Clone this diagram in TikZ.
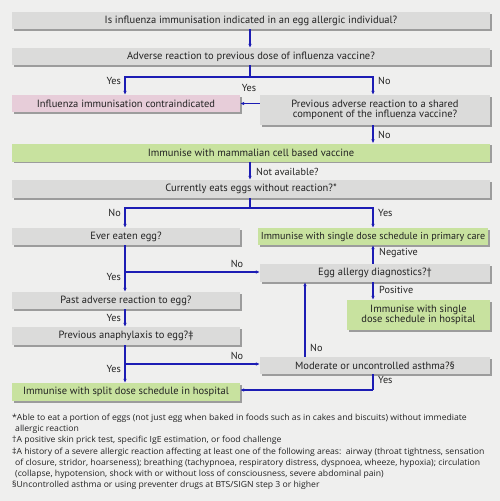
\documentclass[tikz,border=0pt]{standalone}
\usepackage{fontspec}
\setmainfont{PT Sans}
\newfontfamily\fnfont{Open Sans}
\usetikzlibrary{shadows,arrows.meta}
\definecolor{bg}{HTML}{EFEFEE}
\definecolor{boxgray}{HTML}{DBDBDA}
\definecolor{boxpink}{HTML}{E7CDD9}
\definecolor{boxgreen}{HTML}{C8E29F}
\definecolor{shad}{HTML}{9C9C9C}
\definecolor{arrblue}{HTML}{1C1CB4}
\definecolor{txt}{HTML}{222222}
\newcommand{\fnx}[1]{\scalebox{1.03}[1]{#1}}
\tikzset{
  box/.style={rectangle, fill=boxgray, inner sep=1pt, align=center, text=txt,
    font=\fontsize{10.5}{11}\selectfont,
    drop shadow={shadow xshift=1.6pt, shadow yshift=-1.6pt, fill=shad, opacity=1}},
  gbox/.style={box, fill=boxgreen},
  pbox/.style={box, fill=boxpink},
  arr/.style={draw=arrblue, line width=1.1pt, -{Latex[length=4pt,width=3.6pt]}},
  ln/.style={draw=arrblue, line width=1.1pt},
  lab/.style={font=\fontsize{10.2}{11}\selectfont, text=txt, inner sep=1pt},
  fn/.style={font=\fnfont\fontsize{8.4}{10}\selectfont, text=txt, anchor=west, inner sep=0pt}
}
\begin{document}
\begin{tikzpicture}[x=1pt,y=-1pt]
\fill[bg] (0,0) rectangle (500,501);
\useasboundingbox (0,0) rectangle (500,501);

\node[box, minimum width=478, minimum height=17] (q1) at (251,20.5) {Is influenza immunisation indicated in an egg allergic individual?};
\node[box, minimum width=478, minimum height=17] (q2) at (251,56.5) {Adverse reaction to previous dose of influenza vaccine?};
\node[pbox, minimum width=228, minimum height=17] (contra) at (126,103.5) {Influenza immunisation contraindicated};
\node[box, minimum width=230, minimum height=30] (q3) at (375,110) {Previous adverse reaction to a shared\\[-1.5pt]component of the influenza vaccine?};
\node[gbox, minimum width=478, minimum height=18] (mam) at (251,152.5) {Immunise with mammalian cell based vaccine};
\node[box, minimum width=478, minimum height=18] (q4) at (251,189) {Currently eats eggs without reaction?*};
\node[box, minimum width=228, minimum height=17] (ever) at (126,236.5) {Ever eaten egg?};
\node[gbox, minimum width=230, minimum height=17, font=\fontsize{10.1}{11}\selectfont] (primary) at (373,236.5) {Immunise with single dose schedule in primary care};
\node[box, minimum width=230, minimum height=18] (diag) at (375,273) {Egg allergy diagnostics?\textdagger};
\node[gbox, minimum width=143, minimum height=30] (hosp) at (418.5,315) {Immunise with single\\[-1.5pt]dose schedule in hospital};
\node[box, minimum width=228, minimum height=17] (past) at (126,300.5) {Past adverse reaction to egg?};
\node[box, minimum width=228, minimum height=18] (anaph) at (126,336) {Previous anaphylaxis to egg?\textdaggerdbl};
\node[gbox, minimum width=228, minimum height=18] (split) at (126,392) {Immunise with split dose schedule in hospital};
\node[box, minimum width=230, minimum height=17] (asthma) at (375,365.5) {Moderate or uncontrolled asthma?\S};

% connectors
\coordinate (b1) at (250,77);
\coordinate (b2) at (250,208);
\coordinate (b3) at (125,272);
\coordinate (b4) at (125,364);
\coordinate (b5) at (373,390);

\draw[arr] (q1.south -| 250,0) -- (q2.north -| 250,0);
\draw[ln] (q2.south -| b1) -- (b1);
\draw[arr] (b1) -| (contra.north -| 125,0);
\draw[arr] (b1) -| (q3.north -| 373,0);
\draw[arr] (q3.west |- contra.east) -- (contra.east);
\draw[arr] (q3.south -| 373,0) -- (mam.north -| 373,0);
\draw[arr] (mam.south -| 250,0) -- (q4.north -| 250,0);
\draw[ln] (q4.south -| b2) -- (b2);
\draw[arr] (b2) -| (ever.north -| 125,0);
\draw[arr] (b2) -| (primary.north -| 373,0);
\draw[arr] (ever.south -| b3) -- (past.north -| b3);
\draw[arr] (b3) -- (diag.west |- b3);
\draw[arr] (diag.north -| 373,0) -- (primary.south -| 373,0);
\draw[arr] (diag.south -| 373,0) -- (hosp.north -| 373,0);
\draw[arr] (past.south -| 125,0) -- (anaph.north -| 125,0);
\draw[arr] (anaph.south -| b4) -- (split.north -| b4);
\draw[arr] (b4) -- (asthma.west |- b4);
\draw[arr] (asthma.north -| 305,0) -- (diag.south -| 305,0);
\draw[ln] (asthma.south -| b5) -- (b5);
\draw[arr] (b5) -- (split.east |- b5);

% labels
\node[lab, anchor=east] (l1) at (122,81) {Yes};
\node[lab, anchor=west] (l2) at (377,81) {No};
\node[lab] (l3) at (249,88) {Yes};
\node[lab, anchor=west] (l4) at (377,135) {No};
\node[lab, anchor=west] (l5) at (255,172) {Not available?};
\node[lab, anchor=east] (l6) at (122,213) {No};
\node[lab, anchor=west] (l7) at (377,213) {Yes};
\node[lab] (l8) at (237,264) {No};
\node[lab, anchor=east] (l9) at (122,277) {Yes};
\node[lab, anchor=west] (l10) at (378,253) {Negative};
\node[lab, anchor=west] (l11) at (378,290) {Positive};
\node[lab, anchor=east] (l12) at (122,318) {Yes};
\node[lab] (l13) at (237,356) {No};
\node[lab, anchor=east] (l14) at (122,369) {Yes};
\node[lab, anchor=west] (l15) at (309,348) {No};
\node[lab, anchor=west] (l16) at (377,380) {Yes};

% footnotes
\node[fn] (f1) at (12,418) {\fnx{*Able to eat a portion of eggs (not just egg when baked in foods such as in cakes and biscuits) without immediate}};
\node[fn] (f1b) at (15,429) {\fnx{allergic reaction}};
\node[fn] (f2) at (12,440) {\fnx{\textdagger A positive skin prick test, specific IgE estimation, or food challenge}};
\node[fn] (f3) at (12,452) {\fnx{\textdaggerdbl A history of a severe allergic reaction affecting at least one of the following areas:\ \ airway (throat tightness, sensation}};
\node[fn] (f3b) at (15,463) {\fnx{of closure, stridor, hoarseness); breathing (tachypnoea, respiratory distress, dyspnoea, wheeze, hypoxia); circulation}};
\node[fn] (f3c) at (15,474) {\fnx{(collapse, hypotension, shock with or without loss of consciousness, severe abdominal pain)}};
\node[fn] (f4) at (12,485) {\fnx{\S Uncontrolled asthma or using preventer drugs at BTS/SIGN step 3 or higher}};
\end{tikzpicture}
\end{document}
